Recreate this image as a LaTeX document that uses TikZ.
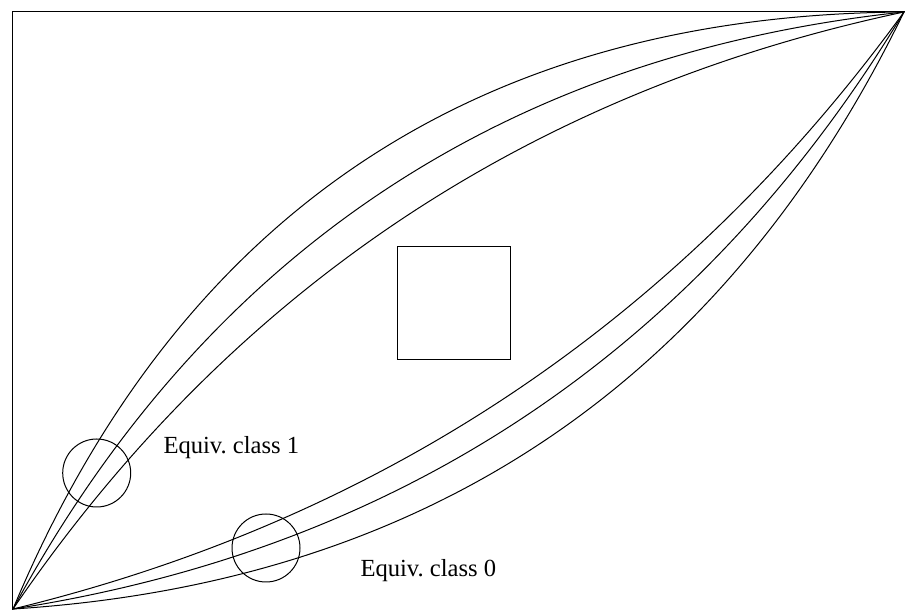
\documentclass[tikz,border=0pt]{standalone}
\usepackage{fontspec}
\setmainfont{Liberation Serif}
\usetikzlibrary{calc}
\frenchspacing

\begin{document}
\begin{tikzpicture}[x=0.5pt, y=0.5pt, line width=0.5pt,
    classlabel/.style={anchor=base west, inner sep=0pt, font=\fontsize{12.3}{14}\selectfont}]
  \useasboundingbox (0,0) rectangle (905,610);
  % frame
  \draw (12,0) -- (12,598) -- (905,598);
  \coordinate (lo) at (13,1);
  \coordinate (hi) at (904,598);
  % the six curves, one quadratic control point each
  \foreach \qx/\qy in {261.4/593.6, 301.5/533.8, 338.8/478.1,
                       568.2/135.8, 597.7/91.8, 632.2/40.3}
    \draw (lo) .. controls ($(lo)!2/3!(\qx,\qy)$) and ($(hi)!2/3!(\qx,\qy)$) .. (hi);
  \draw (397.5,250) rectangle (510,363);
  % equivalence classes
  \draw (96.7,137) circle (34);
  \draw (266,62) circle (34);
  \node[classlabel] (class1) at (163,156) {Equiv. class 1};
  \node[classlabel] (class0) at (360,33) {Equiv. class 0};
\end{tikzpicture}
\end{document}
